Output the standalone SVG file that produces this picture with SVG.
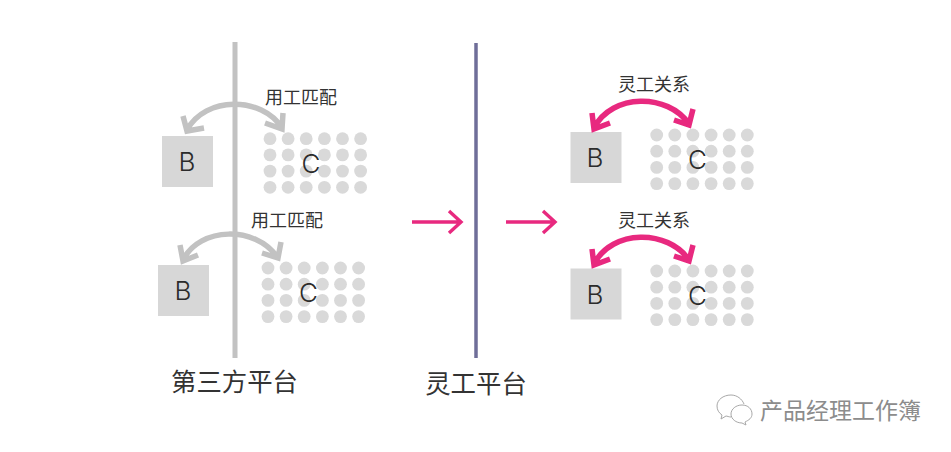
<svg xmlns="http://www.w3.org/2000/svg" width="951" height="452" viewBox="0 0 951 452">
<style>
text{font-family:"Liberation Sans","Noto Sans CJK SC",sans-serif}
.cjk{font-family:"Noto Sans CJK SC",sans-serif;fill:#333}
.sm{font-size:18px;text-anchor:middle}
.lg{font-size:25.4px;text-anchor:middle}
.let{font-family:"Inter","Liberation Sans",sans-serif;font-weight:300;font-size:26px;fill:#2b2b2b;text-anchor:middle}
.sq{fill:#d7d7d7}
.dots circle{fill:#d9d9d9;r:6.4px}
.gr{fill:none;stroke:#c2c2c2;stroke-width:5.5}
.pk{fill:none;stroke:#e8297f;stroke-width:5.5}
.st{fill:none;stroke:#e8297f;stroke-width:3.4}
.ic{fill:none;stroke:#a8a8a8;stroke-width:1}
</style>
<defs>
<g id="d" class="dots">
<circle cx="0" cy="0"/><circle cx="18.1" cy="0"/><circle cx="36.2" cy="0"/><circle cx="54.4" cy="0"/><circle cx="72.5" cy="0"/><circle cx="90.6" cy="0"/>
<circle cx="0" cy="16.2"/><circle cx="18.1" cy="16.2"/><circle cx="36.2" cy="16.2"/><circle cx="54.4" cy="16.2"/><circle cx="72.5" cy="16.2"/><circle cx="90.6" cy="16.2"/>
<circle cx="0" cy="32.4"/><circle cx="18.1" cy="32.4"/><circle cx="36.2" cy="32.4"/><circle cx="54.4" cy="32.4"/><circle cx="72.5" cy="32.4"/><circle cx="90.6" cy="32.4"/>
<circle cx="0" cy="48.6"/><circle cx="18.1" cy="48.6"/><circle cx="36.2" cy="48.6"/><circle cx="54.4" cy="48.6"/><circle cx="72.5" cy="48.6"/><circle cx="90.6" cy="48.6"/>
</g>
</defs>
<rect width="951" height="452" fill="#fff"/>
<g id="dividers">
<line x1="235" y1="42" x2="235" y2="358" stroke="#c2c2c2" stroke-width="5"/>
<line x1="476" y1="43" x2="476" y2="358" stroke="#6f6e99" stroke-width="3.5"/>
</g>
<g id="node-b1"><rect class="sq" x="162" y="136" width="51" height="51"/><text class="let" x="187" y="171">B</text></g>
<g id="node-c1"><use href="#d" x="270" y="138.7"/><text class="let" x="311" y="173">C</text></g>
<g id="node-b2"><rect class="sq" x="158" y="265" width="51" height="51"/><text class="let" x="183" y="300">B</text></g>
<g id="node-c2"><use href="#d" x="268" y="268"/><text class="let" x="308.500" y="302">C</text></g>
<g id="node-b3"><rect class="sq" x="570.5" y="132" width="51" height="51"/><text class="let" x="595" y="167">B</text></g>
<g id="node-c3"><use href="#d" x="656.7" y="135"/><text class="let" x="697.500" y="169">C</text></g>
<g id="node-b4"><rect class="sq" x="570.5" y="268.5" width="51" height="51"/><text class="let" x="595" y="304">B</text></g>
<g id="node-c4"><use href="#d" x="656.7" y="271"/><text class="let" x="697.500" y="305">C</text></g>
<g id="connectors">
<path class="gr" d="M187 130C205 96 262 96 282 128M183 116L187 131L204 128M283 113L282 129L265 123"/>
<path class="gr" d="M183 260C200 226 256 226 277 257M180 245L183 261L198 255M281 242L278 258L262 253"/>
<path class="pk" d="M594 128C612 93 668 93 689 124M592 113L594 129L610 123M693 109L689 125L674 120"/>
<path class="pk" d="M594 264C612 229 668 229 689 260M592 249L594 265L610 259M693 245L689 261L674 256"/>
<path class="st" d="M412 222H460M449 211L461 222L449 233"/>
<path class="st" d="M506 222H554M543 211L555 222L543 233"/>
</g>
<g id="labels">
<text class="cjk sm" x="301" y="104">用工匹配</text>
<text class="cjk sm" x="287" y="227">用工匹配</text>
<text class="cjk sm" x="654" y="91">灵工关系</text>
<text class="cjk sm" x="654" y="227">灵工关系</text>
<text class="cjk lg" x="234.500" y="391">第三方平台</text>
<text class="cjk lg" x="476" y="393">灵工平台</text>
</g>
<g id="watermark">
<path class="ic" d="M731 395c-8 0-14 5-14 11 0 4 2 7 5 9l-1 4 5-3c1 0 3 1 5 1M744 404c-2-5-7-9-13-9"/>
<path class="ic" d="M742 405c-6 0-11 4-11 9s5 9 11 9l4 2-1-3c4-2 7-4 7-8 0-5-4-9-10-9z"/>
<text x="840.500" y="419" font-size="23" text-anchor="middle" style="font-family:'Noto Sans CJK SC',sans-serif;fill:#8c8c8c">产品经理工作簿</text>
</g>
</svg>
